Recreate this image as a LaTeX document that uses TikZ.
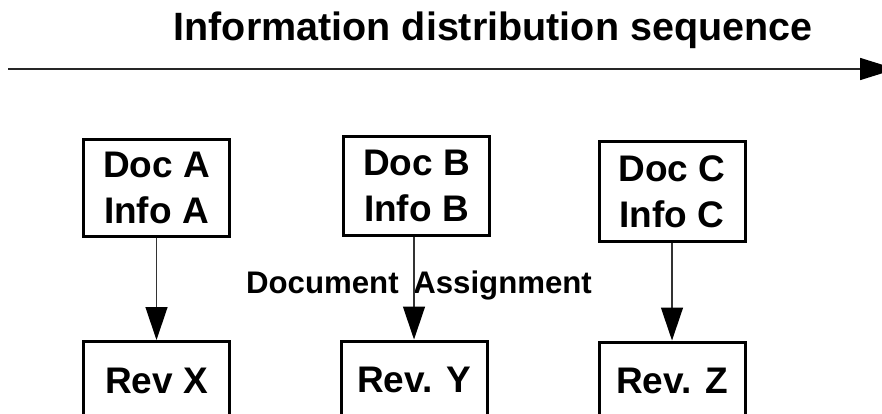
\documentclass[tikz,border=0pt]{standalone}
\usepackage{fontspec}
\setmainfont{Liberation Sans}
\usetikzlibrary{arrows.meta}
\tikzset{
  docbox/.style={draw=black, line width=3pt, fill=white, align=center,
    minimum width=146pt, inner sep=0pt,
    font=\bfseries\fontsize{37}{46}\selectfont},
  revbox/.style={docbox, minimum height=78pt},
  conn/.style={draw=black!80, line width=1.3pt, -{Triangle[length=33pt,width=22pt,fill=black,color=black]}},
  seqarrow/.style={draw=black!85, line width=1.6pt, -{Triangle[length=36pt,width=22pt,fill=black,color=black]}},
}
\begin{document}
\begin{tikzpicture}[x=1pt, y=-1pt]
  \useasboundingbox (0,0) rectangle (882,414);
  \clip (0,0) rectangle (882,414);
  % title
  \node[anchor=base, font=\bfseries\fontsize{39.5}{46}\selectfont, inner sep=0pt] (title) at (493,41) {Information distribution sequence};
  % sequence arrow
  \coordinate (s) at (8,69);
  \coordinate (e) at (896,69);
  \draw[seqarrow] (s) -- (e);
  % document boxes
  \node[docbox, minimum height=96pt] (da) at (156.5,188) {Doc A\\Info A};
  \node[docbox, minimum height=99pt] (db) at (416.5,186) {Doc B\\Info B};
  \node[docbox, minimum height=100pt] (dc) at (672,191.5) {Doc C\\Info C};
  % reviewer boxes
  \node[revbox] (rx) at (156.5,380.5) {Rev X};
  \node[revbox] (ry) at (414,380) {Rev. Y};
  \node[revbox] (rz) at (672,381) {Rev. Z};
  % label (drawn under the connectors)
  \node[anchor=base, font=\bfseries\fontsize{31.2}{36}\selectfont, inner sep=0pt] (lbl) at (419,293) {Document\hspace{6pt} Assignment};
  % connectors
  \draw[conn] (da.south -| rx.north) -- (rx.north);
  \draw[conn] (db.south -| ry.north) -- (ry.north);
  \draw[conn] (dc.south) -- (rz.north);
\end{tikzpicture}
\end{document}
